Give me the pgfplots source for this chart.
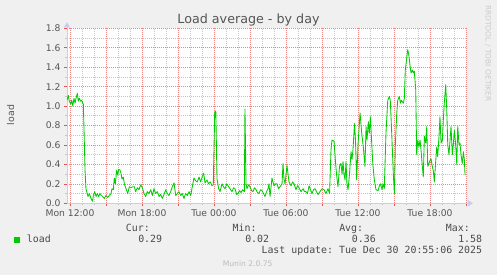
\documentclass[border=0pt]{standalone}
\usepackage{fontspec}
\setmainfont{DejaVu Sans}
\setmonofont{DejaVu Sans Mono}
\usepackage{pgfplots}
\pgfplotsset{compat=1.18}
\usetikzlibrary{arrows.meta}
\definecolor{bgc}{HTML}{F0F0F0}
\definecolor{textc}{HTML}{555555}
\definecolor{footc}{HTML}{4A4A4A}
\definecolor{majgrid}{HTML}{E85050}
\definecolor{mingrid}{HTML}{C4C4C4}
\definecolor{axisc}{HTML}{C8CCF4}
\definecolor{lineg}{HTML}{00CC00}
\definecolor{faint}{HTML}{CCCCCC}
\definecolor{muninc}{HTML}{BBBBBB}
\begin{document}
\begin{tikzpicture}[x=1pt,y=1pt]
\path[use as bounding box, fill=bgc] (0,0) rectangle (497,275);
\begin{axis}[
  at={(67pt,71.7pt)}, anchor=south west,
  scale only axis, width=400pt, height=175pt,
  xmin=-0.25, xmax=33.083, ymin=0, ymax=1.8,
  axis background/.style={fill=white},
  axis x line=bottom, axis y line=left,
  axis line style={draw=axisc, line width=0.8pt, -{Triangle[length=5pt,width=6pt]}, shorten >=-6pt},
  xtick={0,3,6,9,12,15,18,21,24,27,30,33},
  xticklabels={Mon 12:00,,Mon 18:00,,Tue 00:00,,Tue 06:00,,Tue 12:00,,Tue 18:00,},
  minor x tick num=2,
  ytick={0,0.2,0.4,0.6,0.8,1.0,1.2,1.4,1.6,1.8},
  yticklabels={0.0,0.2,0.4,0.6,0.8,1.0,1.2,1.4,1.6,1.8},
  minor y tick num=1,
  grid=both,
  major grid style={dash pattern=on 0.8pt off 1.2pt, color=majgrid, opacity=0.7, line width=0.65pt},
  minor grid style={dash pattern=on 0.7pt off 1.3pt, color=mingrid, line width=0.6pt},
  tick align=outside,
  major tick length=3pt, minor tick length=2pt,
  major tick style={color=majgrid, line width=0.7pt},
  minor tick style={color=mingrid, line width=0.7pt},
  ticklabel style={font=\fontsize{9.2}{10}\selectfont, text=textc},
  clip=true,
]
\addplot[color=lineg, line width=0.85pt, line join=round, mark=none] coordinates {
(-0.25,1.06) (-0.14,1.11) (-0.06,1.05) (0.06,1.02) (0.14,1.06) (0.23,1.00) (0.33,1.08) (0.42,1.03)
(0.50,1.08) (0.61,1.13) (0.69,1.05) (0.78,1.08) (0.89,1.05) (0.98,1.06) (1.06,1.03) (1.11,1.02)
(1.17,0.75) (1.25,0.35) (1.33,0.15) (1.39,0.12) (1.50,0.07) (1.61,0.10) (1.75,0.05) (1.83,0.03)
(1.89,0.02) (1.94,0.08) (2.06,0.12) (2.17,0.07) (2.28,0.10) (2.39,0.07) (2.50,0.10) (2.61,0.08)
(2.72,0.07) (2.86,0.05) (3.00,0.08) (3.14,0.06) (3.28,0.08) (3.42,0.10) (3.50,0.15) (3.61,0.14)
(3.69,0.26) (3.78,0.20) (3.89,0.34) (3.98,0.29) (4.06,0.35) (4.17,0.34) (4.25,0.31) (4.33,0.25)
(4.44,0.27) (4.53,0.20) (4.67,0.15) (4.81,0.10) (4.94,0.17) (5.08,0.16) (5.22,0.17) (5.36,0.17)
(5.47,0.12) (5.61,0.16) (5.75,0.14) (5.89,0.19) (6.03,0.16) (6.17,0.10) (6.31,0.07) (6.44,0.12)
(6.58,0.10) (6.73,0.14) (6.86,0.08) (7.00,0.15) (7.14,0.10) (7.28,0.12) (7.42,0.07) (7.56,0.09)
(7.69,0.05) (7.83,0.09) (7.98,0.14) (8.11,0.10) (8.25,0.08) (8.39,0.12) (8.53,0.17) (8.67,0.21)
(8.81,0.08) (8.94,0.10) (9.08,0.12) (9.23,0.08) (9.36,0.10) (9.50,0.05) (9.64,0.10) (9.78,0.08)
(9.92,0.12) (10.06,0.08) (10.19,0.17) (10.33,0.26) (10.48,0.23) (10.61,0.22) (10.75,0.27) (10.89,0.22)
(11.03,0.28) (11.14,0.31) (11.25,0.21) (11.42,0.24) (11.54,0.20) (11.69,0.22) (11.83,0.18) (11.94,0.19)
(12.06,0.94) (12.15,0.95) (12.25,0.25) (12.39,0.15) (12.50,0.12) (12.67,0.20) (12.79,0.17) (12.92,0.15)
(13.06,0.20) (13.17,0.18) (13.33,0.15) (13.50,0.12) (13.63,0.16) (13.75,0.15) (13.89,0.09) (14.00,0.10)
(14.13,0.13) (14.25,0.11) (14.38,0.14) (14.53,0.12) (14.58,0.97) (14.67,0.20) (14.75,0.15) (14.88,0.19)
(15.00,0.17) (15.13,0.13) (15.25,0.12) (15.38,0.16) (15.50,0.14) (15.63,0.11) (15.75,0.10) (15.88,0.14)
(16.00,0.13) (16.13,0.10) (16.25,0.07) (16.38,0.12) (16.50,0.15) (16.58,0.20) (16.67,0.07) (16.83,0.26)
(17.00,0.18) (17.13,0.20) (17.25,0.20) (17.38,0.15) (17.50,0.17) (17.67,0.20) (17.75,0.41) (17.83,0.25)
(17.92,0.20) (18.08,0.39) (18.25,0.22) (18.42,0.18) (18.54,0.22) (18.67,0.20) (18.83,0.14) (18.96,0.18)
(19.08,0.16) (19.25,0.12) (19.42,0.15) (19.54,0.12) (19.67,0.12) (19.79,0.10) (19.92,0.18) (20.04,0.14)
(20.17,0.10) (20.29,0.14) (20.42,0.15) (20.54,0.12) (20.67,0.09) (20.83,0.12) (21.00,0.15) (21.17,0.14)
(21.33,0.10) (21.50,0.15) (21.63,0.10) (21.75,0.55) (21.83,0.65) (22.00,0.64) (22.11,0.45) (22.21,0.30)
(22.33,0.17) (22.46,0.38) (22.58,0.41) (22.67,0.30) (22.75,0.43) (22.83,0.30) (22.92,0.24) (23.00,0.43)
(23.08,0.20) (23.17,0.14) (23.29,0.30) (23.42,0.53) (23.50,0.45) (23.58,0.55) (23.71,0.82) (23.79,0.65)
(23.89,0.24) (24.00,0.60) (24.17,0.93) (24.31,0.72) (24.44,0.58) (24.58,0.38) (24.67,0.79) (24.75,0.65)
(24.86,0.84) (24.94,0.72) (25.03,0.89) (25.11,0.70) (25.23,0.41) (25.36,0.24) (25.50,0.14) (25.67,0.13)
(25.78,0.18) (25.88,0.20) (26.00,0.14) (26.08,0.20) (26.19,0.15) (26.33,0.72) (26.48,1.06) (26.61,1.10)
(26.69,1.06) (26.81,0.72) (26.94,0.31) (27.03,0.10) (27.11,0.60) (27.23,0.93) (27.31,1.06) (27.44,1.10)
(27.53,1.03) (27.61,1.06) (27.78,1.03) (27.86,1.08) (27.94,1.37) (28.04,1.47) (28.14,1.58) (28.23,1.53)
(28.33,1.42) (28.42,1.34) (28.53,1.37) (28.61,1.34) (28.69,1.36) (28.81,1.17) (28.89,0.50) (28.98,0.65)
(29.08,0.58) (29.17,0.65) (29.25,0.55) (29.36,0.38) (29.44,0.27) (29.53,0.69) (29.64,0.62) (29.73,0.79)
(29.81,0.38) (29.92,0.41) (30.00,0.44) (30.08,0.46) (30.19,0.38) (30.28,0.33) (30.36,0.22) (30.48,0.44)
(30.56,0.58) (30.64,0.48) (30.75,0.69) (30.83,0.89) (30.92,0.62) (31.03,0.65) (31.11,0.86) (31.19,1.03)
(31.31,1.22) (31.39,0.98) (31.48,0.60) (31.58,0.50) (31.67,0.65) (31.75,0.79) (31.86,0.50) (31.94,0.60)
(32.03,0.75) (32.14,0.60) (32.23,0.40) (32.31,0.79) (32.42,0.60) (32.50,0.62) (32.58,0.50) (32.69,0.41)
(32.78,0.53) (32.86,0.45) (32.92,0.29)
};
\end{axis}
% title
\node[anchor=base, inner sep=0pt, text=textc, font=\fontsize{12.7}{14}\selectfont] at (248.5,251) {Load average - by day};
% y label
\node[rotate=90, inner sep=0pt, text=textc, font=\fontsize{9.4}{10}\selectfont] at (10.5,160) {load};
% rrdtool credit
\node[rotate=-90, inner sep=0pt, text=faint, font=\fontsize{7.5}{8}\selectfont] at (488,221.5) {RRDTOOL / TOBI OETIKER};
% legend
\fill[lineg] (14,32.3) rectangle (20,38.3);
\begin{scope}[every node/.style={inner sep=0pt, text=footc, font=\ttfamily\fontsize{9.9}{11}\selectfont}]
\node[anchor=base west] at (26.7,32.3) {load};
\node[anchor=base east] at (150,43.3) {Cur:};
\node[anchor=base east] at (162.3,32.3) {0.29};
\node[anchor=base east] at (256.7,43.3) {Min:};
\node[anchor=base east] at (269.3,32.3) {0.02};
\node[anchor=base east] at (363.3,43.3) {Avg:};
\node[anchor=base east] at (376,32.3) {0.36};
\node[anchor=base east] at (470,43.3) {Max:};
\node[anchor=base east] at (482.3,32.3) {1.58};
\node[anchor=base east] at (482.3,21.3) {Last update: Tue Dec 30 20:55:06 2025};
\end{scope}
\node[anchor=base, inner sep=0pt, text=muninc, font=\fontsize{7.6}{8}\selectfont] at (247.7,8.5) {Munin 2.0.75};
\end{tikzpicture}
\end{document}
